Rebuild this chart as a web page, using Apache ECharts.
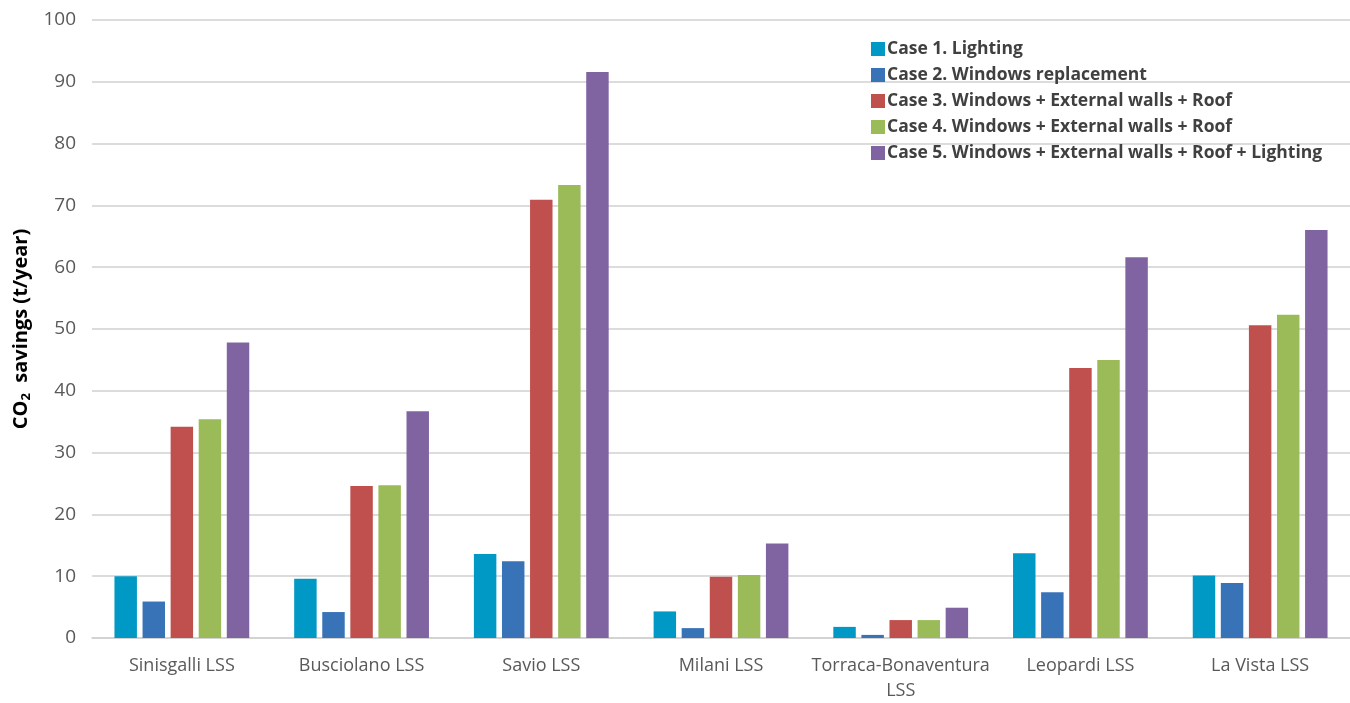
<!DOCTYPE html>
<html>
<head>
<meta charset="utf-8">
<script src="https://cdn.jsdelivr.net/npm/echarts@6/dist/echarts.min.js"></script>
<style>
  html, body { margin: 0; padding: 0; background: #ffffff; width: 100%; height: 100%; overflow: hidden; }
  #chart { width: 100vw; height: 100vh; }
</style>
</head>
<body>
<div id="chart"></div>
<script>
// Schools (x-axis categories)
const schools = [
  'Sinisgalli LSS', 'Busciolano LSS', 'Savio LSS', 'Milani LSS',
  'Torraca-Bonaventura\nLSS', 'Leopardi LSS', 'La Vista LSS'
];

// Retrofit scenarios
const caseNames = [
  'Case 1. Lighting',
  'Case 2. Windows replacement',
  'Case 3. Windows + External walls + Roof',
  'Case 4. Windows + External walls + Roof',
  'Case 5. Windows + External walls + Roof + Lighting'
];

// CO2 savings (t/year) per school for each case
const case1 = [10.0, 9.6, 13.6, 4.3, 1.8, 13.7, 10.1];
const case2 = [5.9, 4.2, 12.4, 1.6, 0.5, 7.4, 8.9];
const case3 = [34.2, 24.6, 70.9, 9.9, 2.9, 43.7, 50.6];
const case4 = [35.4, 24.7, 73.3, 10.2, 2.9, 45.0, 52.3];
const case5 = [47.8, 36.7, 91.6, 15.3, 4.9, 61.6, 66.0];

const yTicks = { min: 0, max: 100, interval: 10 };

const palette = ['#0099C6', '#3873B8', '#C0504D', '#9BBB59', '#8064A2'];
const seriesValues = [case1, case2, case3, case4, case5];

const font = '"Open Sans", Lato, sans-serif';

const chart = echarts.init(document.getElementById('chart'), null, { renderer: 'canvas' });

chart.setOption({
  animation: false,
  backgroundColor: '#ffffff',
  color: palette,
  textStyle: { fontFamily: font },
  legend: {
    orient: 'vertical',
    left: 866,
    top: 33,
    itemWidth: 14,
    itemHeight: 14,
    itemGap: 4,
    icon: 'rect',
    textStyle: { fontFamily: font, fontSize: 17.5, fontWeight: 'bold', color: '#404040', padding: [0, 0, 0, -3], lineHeight: 22 },
    data: caseNames
  },
  grid: { left: 92, right: -12, top: 20, bottom: 44, containLabel: false },
  xAxis: {
    type: 'category',
    data: schools,
    axisLine: { show: true, lineStyle: { color: '#d0d0d0', width: 1.5 } },
    axisTick: { show: false },
    axisLabel: {
      color: '#595959', fontSize: 18, fontFamily: font, margin: 15, lineHeight: 25, interval: 0
    }
  },
  yAxis: {
    type: 'value',
    min: yTicks.min,
    max: yTicks.max,
    interval: yTicks.interval,
    name: '{co|CO}{sub|2}{co|  savings (t/year)}',
    nameLocation: 'middle',
    nameRotate: 90,
    nameGap: 56,
    nameTextStyle: {
      rich: {
        co: { fontFamily: font, fontSize: 20, fontWeight: 'bold', color: '#000000' },
        sub: { fontFamily: font, fontSize: 13, fontWeight: 'bold', color: '#000000', verticalAlign: 'bottom', padding: [9, 0, 0, 0] }
      }
    },
    axisLine: { show: false },
    axisTick: { show: false },
    axisLabel: { color: '#595959', fontSize: 19, fontFamily: font, margin: 16 },
    splitLine: { show: true, lineStyle: { color: '#d0d0d0', width: 1.5 } }
  },
  series: seriesValues.map((vals, i) => ({
    name: caseNames[i],
    type: 'bar',
    data: vals,
    barGap: '25%',
    barCategoryGap: '25%',
    itemStyle: { color: palette[i] }
  }))
});
</script>
</body>
</html>
